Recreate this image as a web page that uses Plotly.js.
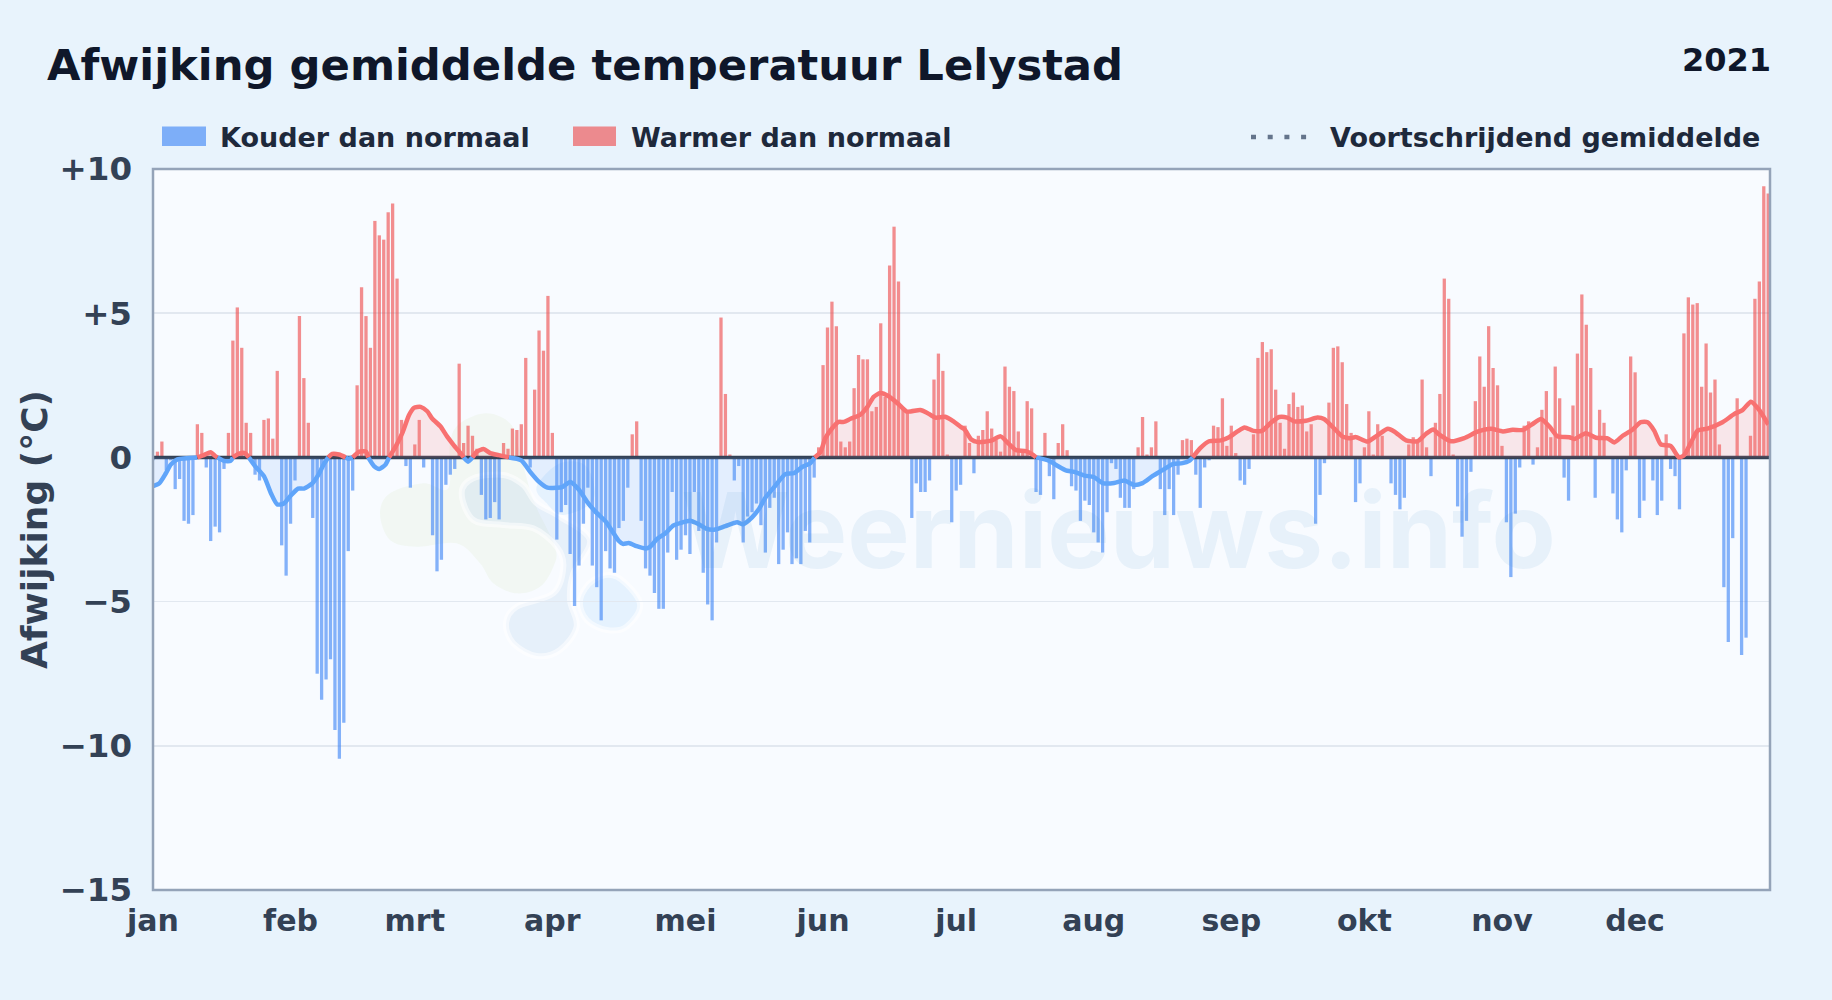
<!DOCTYPE html>
<html><head><meta charset="utf-8">
<script src="https://cdn.plot.ly/plotly-3.0.1.min.js"></script>
<style>html,body{margin:0;padding:0;background:#e8f3fc}#c{width:1832px;height:1000px}</style>
</head><body><div id="c"></div>
<script>
const titleText = "Afwijking gemiddelde temperatuur Lelystad";
const yearText = "2021";
const coldName = "Kouder dan normaal";
const warmName = "Warmer dan normaal";
const avgName = "Voortschrijdend gemiddelde";
const yTitle = "Afwijking (°C)";
const watermark = "Weernieuws.info";
const monthLabels = ["jan","feb","mrt","apr","mei","jun","jul","aug","sep","okt","nov","dec"];
const monthStarts = [1,32,60,91,121,152,182,213,244,274,305,335];
const yTickVals = [10,5,0,-5,-10,-15];
const yTickText = ["+10","+5","0","−5","−10","−15"];
// daily deviation (°C), day 1..365
const dailyDeviation = [
-0.1,.2,.55,-.45,-.1,-1.1,-.75,-2.2,-2.3,-2.0,
1.15,.85,-.35,-2.9,-2.4,-2.6,-.4,.85,4.05,5.2,
3.8,1.2,.85,-.6,-.8,1.3,1.35,.65,3.0,-3.05,
-4.1,-2.3,-.8,4.9,2.75,1.2,-2.1,-7.5,-8.4,-7.7,
-7.0,-9.45,-10.45,-9.2,-3.25,-1.15,2.5,5.9,4.9,3.8,
8.2,7.7,7.55,8.5,8.8,6.2,1.3,-.3,-1.05,.45,
1.3,-.35,0,-2.7,-3.95,-3.55,-.95,-.6,-.4,3.25,
.5,1.1,.75,.3,-1.3,-2.15,-2.1,-1.55,-2.15,.5,
.3,1.0,.95,1.15,3.45,-.35,2.35,4.4,3.7,5.6,
.85,-2.85,-1.9,-1.65,-3.35,-5.15,-3.75,-2.3,-1.05,-3.75,
-4.5,-5.65,-3.25,-3.85,-4.0,-2.45,-2.2,-1.05,.8,1.25,
-2.2,-3.85,-4.1,-4.7,-5.25,-5.25,-3.3,-1.2,-3.55,-3.2,
-2.7,-3.35,-1.2,-2.55,-4.0,-5.1,-5.65,-2.95,4.85,2.2,
.1,-.8,-.3,-2.95,-2.05,-1.9,-1.6,-2.35,-3.3,-1.75,
-1.4,-3.7,-3.2,-2.6,-3.7,-3.5,-3.7,-2.55,-2.95,-.7,
.35,3.2,4.5,5.4,4.55,.55,.35,.55,2.4,3.55,
3.4,3.4,1.6,1.75,4.65,2.1,6.65,8.0,6.1,1.75,
1.55,-2.1,-.9,-1.2,-1.2,-.8,2.7,3.6,3.0,.1,
-2.25,-1.15,-.95,1.1,.5,-.55,.75,.95,1.6,1.0,
.6,.2,3.15,2.45,2.3,.9,.25,1.95,1.7,-1.2,
-1.3,.85,-.65,-1.45,.5,1.15,.25,-1.0,-1.15,-2.2,
-1.5,-1.65,-2.6,-2.95,-3.3,-1.9,-.2,-.4,-1.4,-1.75,
-1.75,-1.1,.35,1.4,.1,.35,1.25,-1.1,-2.0,-1.1,
-2.0,-.6,.6,.65,.6,-.6,-1.75,-.35,-.1,1.1,
1.05,2.05,.4,1.1,.15,-.8,-.95,-.4,.8,3.45,
4.0,3.65,3.75,2.35,1.2,.3,1.85,2.25,1.75,1.8,
.9,1.15,-2.3,-1.3,-.2,1.9,3.8,3.85,3.3,1.85,
.85,-1.55,-.9,.35,1.6,.1,1.15,.75,0,-.9,
-1.3,-1.8,-1.4,.45,.7,.5,2.7,.35,-.65,1.2,
2.2,6.2,5.5,.1,-1.7,-2.75,-2.2,-.5,1.95,3.5,
2.45,4.55,3.1,2.5,.4,-2.25,-4.15,-1.95,-.35,1.1,
1.25,-.25,.35,1.65,2.3,.7,3.15,2.05,-.7,-1.5,
1.8,3.6,5.65,4.6,3.1,-1.4,1.65,1.2,0,-1.25,
-2.15,-2.6,-.45,3.5,2.95,-2.1,-1.5,0,-.8,-2.0,
-1.5,.8,-.4,-.65,-1.8,4.3,5.55,5.3,5.35,2.45,
3.95,2.25,2.7,.45,-4.5,-6.4,-2.8,2.05,-6.85,-6.25,
.75,5.5,6.1,9.4,9.15];
// moving average
const avgDays = [1,2.4,3.9,5,6.5,11,12.5,14,15,15.5,17,18.5,19,20.4,21.7,22.6,24,26,27.6,29,30.5,32,33.7,35,36.9,38.4,39.5,40.5,41.4,42.9,44.4,45,46,47.5,49,49.5,50.8,52,53.4,54.2,55.7,57.2,58.7,59.8,61.3,62.8,63.9,65.8,67.3,68.8,70.7,71,72,73,74,75.5,77,78.9,81.2,84,86,88,89.9,92,93.2,95,97,98.8,100.7,103,104.5,106,106.9,108.2,110,112,113,114.6,116.5,118.3,120.2,122,124,125.8,127.7,130,132.6,134,136,137.5,139,141.2,143.5,145.4,147.2,149.1,150.1,151.4,152.5,154,155.5,156.7,158.2,160.4,162,163.4,164.9,166.8,169,170.9,173.9,175.4,177.3,179.5,181.4,182.9,183.9,185.4,186.9,189.9,192,194,195.5,197.7,199.4,200,203,204.9,206.7,208.6,210.9,213,215,217.6,219.9,222,224,226.3,228.5,230.8,233,234.5,235.3,237,239,241.7,243.5,245.4,247,249,251,252.9,254.8,256.6,258.2,260.8,263.4,264.9,267.2,269,270.9,272,274.7,277,279.3,280.8,283.4,286,287.9,289.5,290.9,293.5,296.5,299.5,302.5,305.2,307.4,309.7,311.9,313.8,315.7,317.5,320.2,321.3,323.9,326.2,328.8,330.3,332.2,334.4,336.3,337.8,339.3,340.8,343,344.9,346,347.6,349.1,351.3,354.7,357.3,359.2,361.1,362.9,365];
const avgVals = [-1,-.9,-.55,-.25,-.07,0,.08,.18,.05,0,-.12,-.12,0,.13,.15,0,-.3,-.65,-1.25,-1.63,-1.6,-1.33,-1.08,-1.08,-.9,-.57,-.23,0,.12,.1,0,-.05,0,.2,.2,0,-.3,-.4,-.25,0,.38,.85,1.47,1.72,1.75,1.6,1.35,1.07,.72,.42,.07,0,-.15,0,.2,.29,.15,.08,0,-.1,-.5,-.85,-1.05,-1.05,-1.03,-.85,-1.12,-1.53,-1.88,-2.22,-2.56,-2.9,-3,-2.97,-3.08,-3.16,-3.1,-2.83,-2.63,-2.36,-2.26,-2.2,-2.32,-2.48,-2.5,-2.38,-2.25,-2.32,-2.08,-1.8,-1.4,-.99,-.58,-.55,-.34,-.2,0,.18,.66,1,1.23,1.23,1.34,1.48,1.75,2.1,2.23,2.12,1.85,1.59,1.64,1.55,1.38,1.41,1.25,1.07,.97,.62,.53,.58,.73,.45,.25,.22,.08,0,-.12,-.3,-.45,-.5,-.63,-.68,-.89,-.89,-.8,-.95,-.89,-.64,-.44,-.23,-.2,-.12,0,.32,.56,.59,.7,.9,1.04,.92,.93,1.2,1.4,1.38,1.25,1.27,1.38,1.33,1,.73,.66,.71,.55,.77,.99,.89,.59,.56,.82,.97,.79,.56,.67,.89,.99,.9,.96,.95,1.16,1.33,1.07,.73,.7,.64,.84,.68,.66,.52,.75,.96,1.22,1.22,.93,.45,.4,0,.07,.52,.93,1,1.22,1.5,1.64,1.93,1.66,1.14];

const days = dailyDeviation.map((_, i) => i + 1);
const cold = dailyDeviation.map(v => v < 0 ? v : null);
const warm = dailyDeviation.map(v => v > 0 ? v : null);
const avgNeg = avgVals.map((v,i) => (v < 0 || (v === 0 && (avgVals[i-1] < 0 || avgVals[i+1] < 0))) ? v : null);
const avgPos = avgVals.map((v,i) => (v > 0 || (v === 0 && (avgVals[i-1] > 0 || avgVals[i+1] > 0))) ? v : null);

const L=153,R=1770,T=169,B=890;
const xEnd = 365.4;
const px = x => (x-L)/(R-L), py = y => (B-y)/(B-T);
const FONT = '"DejaVu Sans", sans-serif';

function blob(points){ // closed smooth curve through page pixels -> paper-coordinate path
  const n=points.length, P=i=>points[(i+n)%n];
  const f=p=>px(p[0])+','+py(p[1]);
  let d='M'+f(P(0));
  for(let i=0;i<n;i++){
    const a=P(i-1),b=P(i),c=P(i+1),e=P(i+2);
    d+=' C'+f([b[0]+(c[0]-a[0])/6,b[1]+(c[1]-a[1])/6])+' '+f([c[0]-(e[0]-b[0])/6,c[1]-(e[1]-b[1])/6])+' '+f(c);
  }
  return d+' Z';
}
const z7 = pts => pts.map(p => [360+p[0]/3, 400+p[1]/3]);
const logoGreen = z7([[60,340],[90,280],[190,250],[265,265],[270,130],[300,70],[380,40],[450,70],[475,140],[520,300],[585,440],[580,500],[540,560],[470,580],[400,550],[360,490],[290,430],[170,440],[90,420]]);
const logoGrey = z7([[305,280],[340,235],[430,225],[490,255],[530,310],[600,350],[690,420],[640,520],[630,600],[650,680],[600,750],[530,768],[460,730],[438,670],[470,620],[580,580],[610,500],[590,440],[520,385],[430,375],[340,360]]);
const logoBlue = z7([[660,600],[700,540],[770,530],[840,610],[800,680],[740,690],[680,660]]);
const logoBlue2 = z7([[530,260],[600,190],[680,200],[700,300],[610,345],[560,310]]);

const shapes = [
 {type:'path',layer:'below',xref:'paper',yref:'paper',path:blob(logoGreen),fillcolor:'rgba(205,230,170,0.14)',line:{width:0}},
 {type:'path',layer:'below',xref:'paper',yref:'paper',path:blob(logoGrey),fillcolor:'rgba(175,205,235,0.24)',line:{width:6,color:'rgba(255,255,255,0.55)'}},
 {type:'path',layer:'below',xref:'paper',yref:'paper',path:blob(logoBlue),fillcolor:'rgba(170,215,250,0.24)',line:{width:6,color:'rgba(255,255,255,0.55)'}},
 {type:'path',layer:'below',xref:'paper',yref:'paper',path:blob(logoBlue2),fillcolor:'rgba(170,215,250,0.24)',line:{width:0}},
 {type:'rect',xref:'paper',yref:'paper',x0:px(162),x1:px(206),y0:py(126.5),y1:py(146),fillcolor:'rgba(59,130,246,0.62)',line:{width:0}},
 {type:'rect',xref:'paper',yref:'paper',x0:px(573),x1:px(616),y0:py(126.5),y1:py(146),fillcolor:'rgba(239,68,68,0.6)',line:{width:0}},
 {type:'line',xref:'paper',yref:'paper',x0:px(1251),x1:px(1307),y0:py(137),y1:py(137),line:{color:'#64748b',width:4.5,dash:'5px,11.7px'}},
 {type:'rect',xref:'paper',yref:'paper',x0:0,x1:1,y0:0,y1:1,line:{color:'#94a3b8',width:2.5},fillcolor:'rgba(0,0,0,0)'}
];
const ann = (text,x,y,size,color,anchor,family=FONT,weight=700) => ({text,xref:'paper',yref:'paper',x:px(x),y:py(y),xanchor:anchor,yanchor:'middle',showarrow:false,font:{family,size,color,weight}});
const annotations = [
 ann(titleText,45,65,43.3,'#0f172a','left'),
 ann(yearText,1773,60,32,'#0f172a','right'),
 ann(coldName,218,137,27,'#1e293b','left'),
 ann(warmName,629,137,27,'#1e293b','left'),
 ann(avgName,1328,137,27,'#1e293b','left'),
 ann(watermark,1118,529,105,'rgba(70,140,205,0.09)','center','Inter',700)
];

const traces = [
 {type:'bar',name:coldName,x:days,y:cold,width:0.74,marker:{color:'#3b82f6',opacity:0.62,line:{width:0}},showlegend:false},
 {type:'bar',name:warmName,x:days,y:warm,width:0.74,marker:{color:'#ef4444',opacity:0.6,line:{width:0}},showlegend:false},
 {type:'scatter',mode:'lines',name:'0',x:[1,xEnd],y:[0,0],line:{color:'#334155',width:3.5},showlegend:false},
 {type:'scatter',mode:'lines',name:avgName+' (koud)',x:avgDays,y:avgNeg,fill:'tozeroy',fillcolor:'rgba(96,165,250,0.14)',line:{color:'#60a5fa',width:4.5,shape:'spline',smoothing:0.6},showlegend:false},
 {type:'scatter',mode:'lines',name:avgName+' (warm)',x:avgDays,y:avgPos,fill:'tozeroy',fillcolor:'rgba(248,113,113,0.15)',line:{color:'#f87171',width:4.5,shape:'spline',smoothing:0.6},showlegend:false}
];

const layout = {
 width:1832,height:1000,
 margin:{l:L,r:1832-R,t:T,b:1000-B,pad:0},
 paper_bgcolor:'#e8f3fc',plot_bgcolor:'#f8fbff',
 barmode:'overlay',
 font:{family:FONT},
 xaxis:{range:[1,xEnd],tickmode:'array',tickvals:monthStarts,ticktext:monthLabels,showgrid:false,zeroline:false,ticks:'',ticklabelstandoff:10,
   tickangle:0,tickfont:{family:FONT,size:30,color:'#334155',weight:700},showline:false},
 yaxis:{range:[-15,10],tickmode:'array',tickvals:yTickVals,ticktext:yTickText,gridcolor:'#e2e8f0',gridwidth:1.5,zeroline:false,ticks:'',ticklabelstandoff:20,
   tickfont:{family:FONT,size:32.5,color:'#334155',weight:700},showline:false,
   title:{text:yTitle,standoff:0,font:{family:FONT,size:36,color:'#334155',weight:700}}},
 shapes,annotations,showlegend:false,hovermode:false
};
Plotly.newPlot('c',traces,layout,{displayModeBar:false,staticPlot:true});
</script></body></html>
